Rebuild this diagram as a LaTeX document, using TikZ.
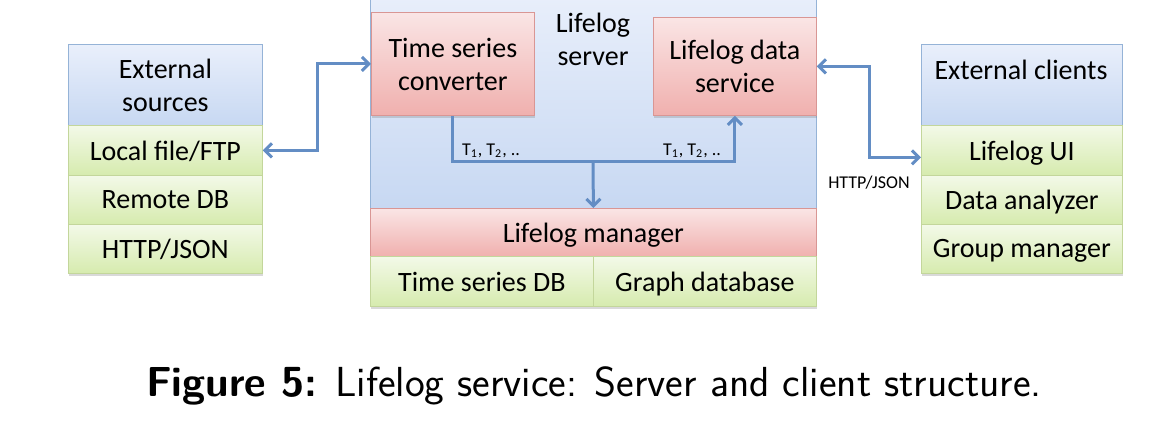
\documentclass[tikz,border=0pt]{standalone}
\usepackage{fontspec}
\setmainfont{Carlito}
\usetikzlibrary{arrows.meta,shadows}

\definecolor{arrblue}{RGB}{99,141,196}
\definecolor{bluetop}{RGB}{233,239,251}
\definecolor{bluebot}{RGB}{199,216,242}
\definecolor{blueline}{RGB}{149,179,215}
\definecolor{redtop}{RGB}{250,229,229}
\definecolor{redbot}{RGB}{240,176,174}
\definecolor{redline}{RGB}{217,150,148}
\definecolor{greentop}{RGB}{243,249,232}
\definecolor{greenbot}{RGB}{214,235,174}
\definecolor{greenline}{RGB}{195,214,155}

\begin{document}
\begin{tikzpicture}[x=0.5pt, y=-0.5pt, >={Straight Barb[length=3.5pt,width=7pt]},
	every node/.style={font=\fontsize{14}{16.5}\selectfont, inner sep=0pt},
	box/.style={draw, anchor=north west, align=center, text depth=0pt,
		drop shadow={shadow xshift=0.4pt, shadow yshift=-1.4pt, opacity=0.3}},
	bluebox/.style={box, draw=blueline, top color=bluetop, bottom color=bluebot},
	redbox/.style={box, draw=redline, top color=redtop, bottom color=redbot},
	greenbox/.style={box, draw=greenline, top color=greentop, bottom color=greenbot},
	arr/.style={draw=arrblue, line width=1.5pt},
	small/.style={font=\fontsize{9}{10}\selectfont}]
\useasboundingbox (0,0) rectangle (1170,426);
\clip (0,0) rectangle (1170,426);
% external sources
	\node[bluebox, minimum width=97pt, minimum height=40.5pt] (extsrc) at (68,44) {External\\sources};
	\node[greenbox, minimum width=97pt, minimum height=25pt] (local) at (68,125) {Local file/FTP};
	\node[greenbox, minimum width=97pt, minimum height=24.5pt] (remote) at (68,175) {Remote DB};
	\node[greenbox, minimum width=97pt, minimum height=24.5pt] (http) at (68,224) {HTTP/JSON};
% lifelog server
	\node[bluebox, minimum width=223pt, minimum height=109pt] (server) at (370,-10) {};
	\node (servername) at (593,39) [align=center] {Lifelog\\server};
	\node[redbox, minimum width=81.5pt, minimum height=51.5pt] (conv) at (371,12) {Time series\\converter};
	\node[redbox, minimum width=81.5pt, minimum height=49pt] (service) at (653,17) {Lifelog data\\service};
	\node[redbox, minimum width=223pt, minimum height=24pt] (mgr) at (370,208) {Lifelog manager};
	\node[greenbox, minimum width=111.5pt, minimum height=25pt] (tsdb) at (370,256) {Time series DB};
	\node[greenbox, minimum width=111.5pt, minimum height=25pt] (graphdb) at (593,256) {Graph database};
% external clients
	\node[bluebox, minimum width=100.5pt, minimum height=40.5pt] (extcli) at (921,44) {};
	\node (extcliname) at (1021,70) {External clients};
	\node[greenbox, minimum width=100.5pt, minimum height=25pt] (ui) at (921,125) {Lifelog UI};
	\node[greenbox, minimum width=100.5pt, minimum height=24.5pt] (analyzer) at (921,175) {Data analyzer};
	\node[greenbox, minimum width=100.5pt, minimum height=24.5pt] (group) at (921,224) {Group manager};
% draw arrows
	\coordinate (junc) at (593,162);
	\draw[arr, <->] (local.east) -- ++(55,0) |- (conv.west);
	\draw[arr, <->] (service.east) -- ++(53,0) |- ([yshift=-3.5pt]ui.west);
	\draw[arr, ->] (conv.south) |- (junc) -| (service.south);
	\draw[arr, ->] (junc) -- (mgr.north);
% labels
	\node[small] (tleft) at (491,151) {T\textsubscript{1}, T\textsubscript{2}, ..};
	\node[small] (tright) at (692,151) {T\textsubscript{1}, T\textsubscript{2}, ..};
	\node[small] (proto) at (869,183) {HTTP/JSON};
% caption
	\node[font=\sffamily\fontsize{21}{25}\selectfont] (caption) at (594,386) {\textbf{Figure 5:} Lifelog service: Server and client structure.};
\end{tikzpicture}
\end{document}
